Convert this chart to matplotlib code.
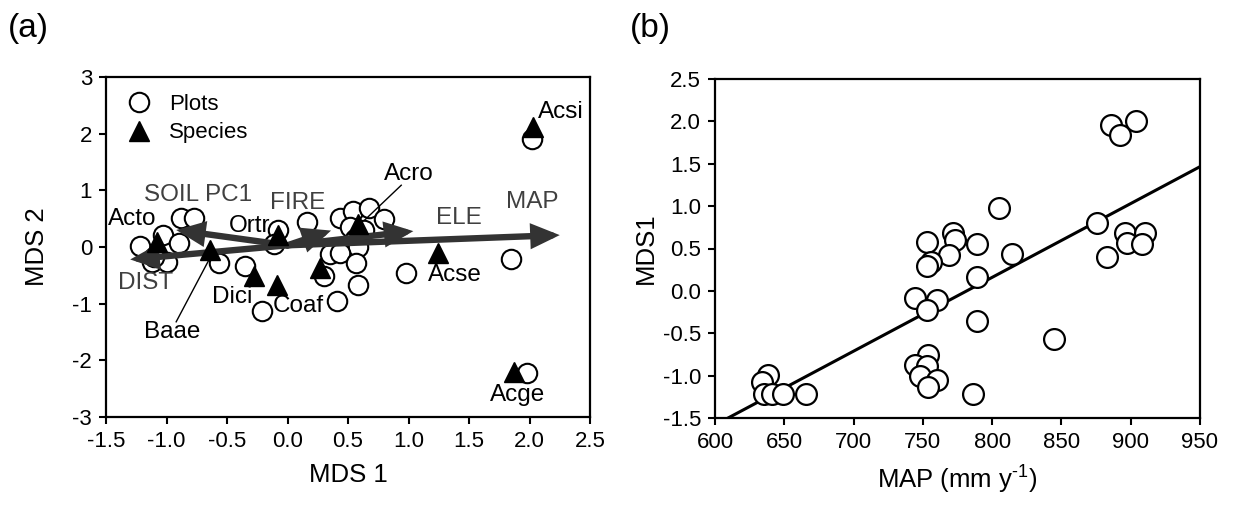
import matplotlib
matplotlib.use("Agg")
import matplotlib.pyplot as plt
from matplotlib.patches import FancyArrowPatch
from matplotlib.lines import Line2D
import numpy as np

plt.rcParams['font.family'] = ['Liberation Sans', 'DejaVu Sans']
plt.rcParams['axes.unicode_minus'] = False
plt.rcParams['mathtext.default'] = 'regular'

# ---------------- Panel (a) data: MDS ordination ----------------
plot_mds1 = [-0.88, -0.77, -1.03, -0.90, -1.22, -1.12, -1.00, -1.10,
             -0.57, -0.35, -0.08, -0.11, -0.21,
             0.16, 0.43, 0.54, 0.67, 0.80, 0.63, 0.52, 0.56, 0.58,
             0.35, 0.43, 0.30, 0.57, 0.58, 0.41, 0.98, 1.85, 1.98, 2.02]
plot_mds2 = [0.51, 0.51, 0.21, 0.07, 0.02, -0.26, -0.27, -0.17,
             -0.28, -0.33, 0.30, 0.05, -1.13,
             0.45, 0.51, 0.64, 0.68, 0.49, 0.30, 0.35, 0.15, 0.00,
             -0.13, -0.11, -0.52, -0.28, -0.67, -0.96, -0.46, -0.21, -2.22, 1.90]

species_names = ['Acto', 'Baae', 'Ortr', 'Dici', 'Coaf', '', 'Acro', 'Acse', 'Acsi', 'Acge']
species_mds1 = [-1.08, -0.64, -0.08, -0.28, -0.09, 0.27, 0.58, 1.24, 2.03, 1.87]
species_mds2 = [0.09, -0.06, 0.21, -0.52, -0.67, -0.37, 0.40, -0.10, 2.12, -2.20]
species_label_x = [-1.28, -0.95, -0.31, -0.46, 0.09, None, 1.00, 1.38, 2.26, 1.90]
species_label_y = [0.49, -1.50, 0.37, -0.88, -1.04, None, 1.29, -0.49, 2.38, -2.61]

env_names = ['MAP', 'ELE', 'FIRE', 'SOIL PC1', 'DIST']
env_tip_x = [2.25, 1.04, 0.36, -0.92, -1.30]
env_tip_y = [0.21, 0.28, 0.29, 0.30, -0.22]
env_origin = (0.0, 0.03)
env_label_x = [2.02, 1.42, 0.08, -0.74, -1.17]
env_label_y = [0.79, 0.51, 0.78, 0.92, -0.63]

# ---------------- Panel (b) data: MDS1 vs MAP ----------------
map_mm = [638.5, 634, 635, 641, 649, 666,
          752.7, 772, 773, 769, 756, 752.7, 789, 789, 744.5, 760, 752.7, 789,
          754, 744.5, 752.7, 748, 760, 754, 786.5,
          805, 814, 844.5, 876, 883, 886, 892, 904, 896, 897.5, 910, 908]
mds1_b = [-0.99, -1.08, -1.22, -1.22, -1.22, -1.22,
          0.58, 0.68, 0.60, 0.42, 0.34, 0.29, 0.55, 0.16, -0.08, -0.11, -0.23, -0.35,
          -0.76, -0.87, -0.89, -1.01, -1.05, -1.13, -1.22,
          0.98, 0.43, -0.57, 0.80, 0.40, 1.96, 1.84, 2.00, 0.68, 0.57, 0.68, 0.55]
fit_slope = 0.008708
fit_intercept = -6.807

fig = plt.figure(figsize=(12.34, 5.08), dpi=100)
axa = fig.add_axes([106/1234, 1-417/508, (590-106)/1234, (417-77)/508])
axb = fig.add_axes([715/1234, 1-418/508, (1200-715)/1234, (418-79)/508])

for ax in (axa, axb):
    for s in ax.spines.values():
        s.set_linewidth(1.6)
    ax.tick_params(direction='out', length=5, width=1.5, labelsize=16, pad=5)

# ---- panel a
axa.plot(plot_mds1, plot_mds2, 'o', ms=14, mfc='white', mec='black', mew=1.5, zorder=2,
         linestyle='none')
for name, tx, ty in zip(env_names, env_tip_x, env_tip_y):
    arr = FancyArrowPatch(env_origin, (tx, ty), arrowstyle='-|>,head_length=0.95,head_width=0.42',
                          mutation_scale=14, lw=4.6, color='#333333', shrinkA=0, shrinkB=0,
                          zorder=3, joinstyle='miter')
    axa.add_patch(arr)
axa.plot(species_mds1, species_mds2, '^', ms=14, color='black', zorder=4, linestyle='none')
for name, lx, ly in zip(env_names, env_label_x, env_label_y):
    axa.text(lx, ly, name, color='#404040', fontsize=17.5, ha='center', va='center', zorder=5)
for name, lx, ly in zip(species_names, species_label_x, species_label_y):
    if name:
        axa.text(lx, ly, name, color='black', fontsize=17.5, ha='center', va='center', zorder=5)
# leader lines for Acro and Baae
axa.plot([0.94, 0.64], [1.09, 0.48], color='black', lw=1, zorder=5)
axa.plot([-0.92, -0.65], [-1.32, -0.23], color='black', lw=1, zorder=5)

axa.set_xlim(-1.5, 2.5)
axa.set_ylim(-3, 3)
axa.set_xticks(np.arange(-1.5, 2.51, 0.5))
axa.set_xticklabels([f'{v:.1f}' for v in np.arange(-1.5, 2.51, 0.5)])
axa.set_yticks(range(-3, 4))
axa.set_xlabel('MDS 1', fontsize=18.5, labelpad=8)
axa.set_ylabel('MDS 2', fontsize=18.5)
axa.yaxis.set_label_coords(-0.117, 0.5)

handles = [Line2D([], [], marker='o', ms=14, mfc='white', mec='black', mew=1.5, linestyle='none'),
           Line2D([], [], marker='^', ms=14, color='black', linestyle='none')]
axa.legend(handles, ['Plots', 'Species'], loc='upper left', frameon=False, fontsize=16,
           handletextpad=0.6, borderaxespad=0.55, labelspacing=0.35, borderpad=0.2,
           handlelength=1.5)

# ---- panel b
xs = np.array([610, 950])
axb.plot(xs, fit_slope*xs + fit_intercept, color='black', lw=2.2, zorder=2)
axb.plot(map_mm, mds1_b, 'o', ms=15, mfc='white', mec='black', mew=1.6, zorder=3, linestyle='none')
axb.set_xlim(600, 950)
axb.set_ylim(-1.5, 2.5)
axb.set_xticks(range(600, 951, 50))
axb.set_yticks(np.arange(-1.5, 2.51, 0.5))
axb.set_yticklabels([f'{v:.1f}' for v in np.arange(-1.5, 2.51, 0.5)])
axb.set_xlabel('MAP (mm y$^{\u2010' + '1}$)', fontsize=18.5, labelpad=8)
axb.set_ylabel('MDS1', fontsize=18.5)
axb.yaxis.set_label_coords(-0.117, 0.5)

fig.text(8/1234, 1-28/508, '(a)', fontsize=24, va='center', ha='left')
fig.text(630/1234, 1-28/508, '(b)', fontsize=24, va='center', ha='left')

fig.savefig('out.png', dpi=100)
